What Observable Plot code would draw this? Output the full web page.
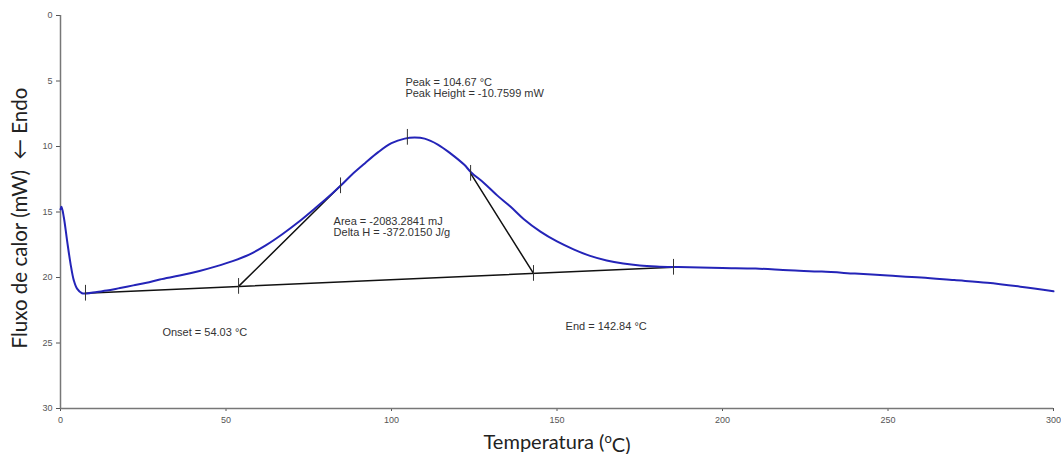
<!DOCTYPE html>
<html><head><meta charset="utf-8">
<script src="https://cdn.jsdelivr.net/npm/d3@7"></script>
<script src="https://cdn.jsdelivr.net/npm/@observablehq/plot@0.6"></script>
<style>body{margin:0;background:#fff}</style>
</head><body><div id="chart"></div>
<script>
// DSC curve: temperature (°C) vs heat flow (mW)
const temperature = [0, 0.3, 1, 2, 3, 4, 5, 6.5, 8, 11, 14, 18, 22, 26, 30, 36, 42, 47, 52, 57, 62, 67, 72, 77, 82, 85, 88, 92, 96, 100, 104, 107, 110, 114, 118, 122, 124, 128, 132, 136, 140, 145, 150, 155, 160, 165, 170, 175, 180, 185, 190, 200, 210, 220, 230, 240, 250, 260, 270, 280, 290, 300];
const heatFlow = [14.8, 14.6, 15.4, 17.2, 18.9, 20.2, 20.85, 21.2, 21.22, 21.1, 21.0, 20.8, 20.6, 20.4, 20.15, 19.85, 19.5, 19.15, 18.75, 18.25, 17.55, 16.7, 15.75, 14.7, 13.6, 12.9, 12.15, 11.27, 10.43, 9.75, 9.4, 9.32, 9.4, 9.85, 10.56, 11.4, 11.96, 12.8, 13.75, 14.6, 15.55, 16.5, 17.25, 17.85, 18.35, 18.7, 18.93, 19.08, 19.16, 19.2, 19.22, 19.28, 19.32, 19.45, 19.55, 19.7, 19.85, 20.0, 20.2, 20.4, 20.7, 21.05];

// analysis points (tick markers)
const markerT = [7.55, 53.8, 84.6, 104.8, 123.9, 142.9, 185.2];
const markerF = [21.2, 20.68, 13.0, 9.3, 12.05, 19.69, 19.22];

// baseline and tangent lines
const baselineT = [7.55, 185.2];
const baselineF = [21.2, 19.22];
const onsetTangentT = [53.8, 84.6];
const onsetTangentF = [20.68, 13.0];
const endTangentT = [123.9, 142.9];
const endTangentF = [12.05, 19.69];

// annotations
const noteText = ["Peak = 104.67 °C", "Peak Height = -10.7599 mW", "Area = -2083.2841 mJ", "Delta H = -372.0150 J/g", "Onset = 54.03 °C", "End = 142.84 °C"];
const noteT = [104.2, 104.2, 82.5, 82.5, 30.8, 152.6];
const noteF = [5.1, 5.95, 15.7, 16.6, 24.2, 23.7];

const xTicks = [0, 50, 100, 150, 200, 250, 300];
const yTicks = [0, 5, 10, 15, 20, 25, 30];
const xTitle = "Temperatura (oC)";
const yTitle = "Fluxo de calor (mW)  \u2190 Endo";

const curve = temperature.map((t, i) => ({t, f: heatFlow[i]}));
const markers = markerT.map((t, i) => ({t, f: markerF[i]}));
const toPts = (T, F) => T.map((t, i) => ({t, f: F[i]}));
const notes = noteText.map((s, i) => ({s, t: noteT[i], f: noteF[i]}));

const chart = Plot.plot({
  width: 1061, height: 454,
  marginLeft: 60, marginRight: 8, marginTop: 15, marginBottom: 46,
  style: {fontFamily: "'Liberation Sans', Arial, sans-serif", fontSize: "9px", color: "#555", background: "#fff", overflow: "visible"},
  x: {domain: [0, 300]},
  y: {domain: [0, 30], reverse: true},
  marks: [
    Plot.axisX({ticks: xTicks, tickSize: 3, tickPadding: 5, label: null}),
    Plot.axisY({ticks: yTicks, tickSize: 4, tickPadding: 4, label: null}),
    Plot.ruleX([0], {stroke: "#777", strokeWidth: 1.5}),
    Plot.ruleY([30], {stroke: "#777", strokeWidth: 1.5}),
    Plot.line(toPts(baselineT, baselineF), {x: "t", y: "f", stroke: "#111", strokeWidth: 1.5}),
    Plot.line(toPts(onsetTangentT, onsetTangentF), {x: "t", y: "f", stroke: "#111", strokeWidth: 1.5}),
    Plot.line(toPts(endTangentT, endTangentF), {x: "t", y: "f", stroke: "#111", strokeWidth: 1.5}),
    Plot.line(curve, {x: "t", y: "f", stroke: "#2424b8", strokeWidth: 2, curve: "catmull-rom"}),
    Plot.ruleX(markers, {x: "t", y1: d => d.f - 0.6, y2: d => d.f + 0.6, stroke: "#333", strokeWidth: 1}),
    Plot.text(notes, {x: "t", y: "f", text: "s", textAnchor: "start", fontSize: 11, fill: "#333"}),
    Plot.text([xTitle], {frameAnchor: "bottom", dy: 34, textAnchor: "middle", lineAnchor: "middle", fontSize: 20, fontFamily: "Lato, 'Open Sans', sans-serif", fill: "#222"}),
    Plot.text([yTitle], {frameAnchor: "left", dx: -40, dy: 6, rotate: -90, textAnchor: "middle", lineAnchor: "middle", fontSize: 20.5, fontFamily: "Lato, 'Open Sans', sans-serif", fill: "#222"})
  ]
});

// superscript "o" in x-axis title
d3.select(chart).selectAll("text").filter(function() { return this.textContent === xTitle; })
  .each(function() {
    const t = d3.select(this);
    t.text(null);
    t.append("tspan").text("Temperatura (");
    t.append("tspan").attr("font-size", 13).attr("dy", "-0.45em").text("o");
    t.append("tspan").attr("dy", "0.45em").text("C)");
  });

document.getElementById("chart").appendChild(chart);
</script>
</body></html>
